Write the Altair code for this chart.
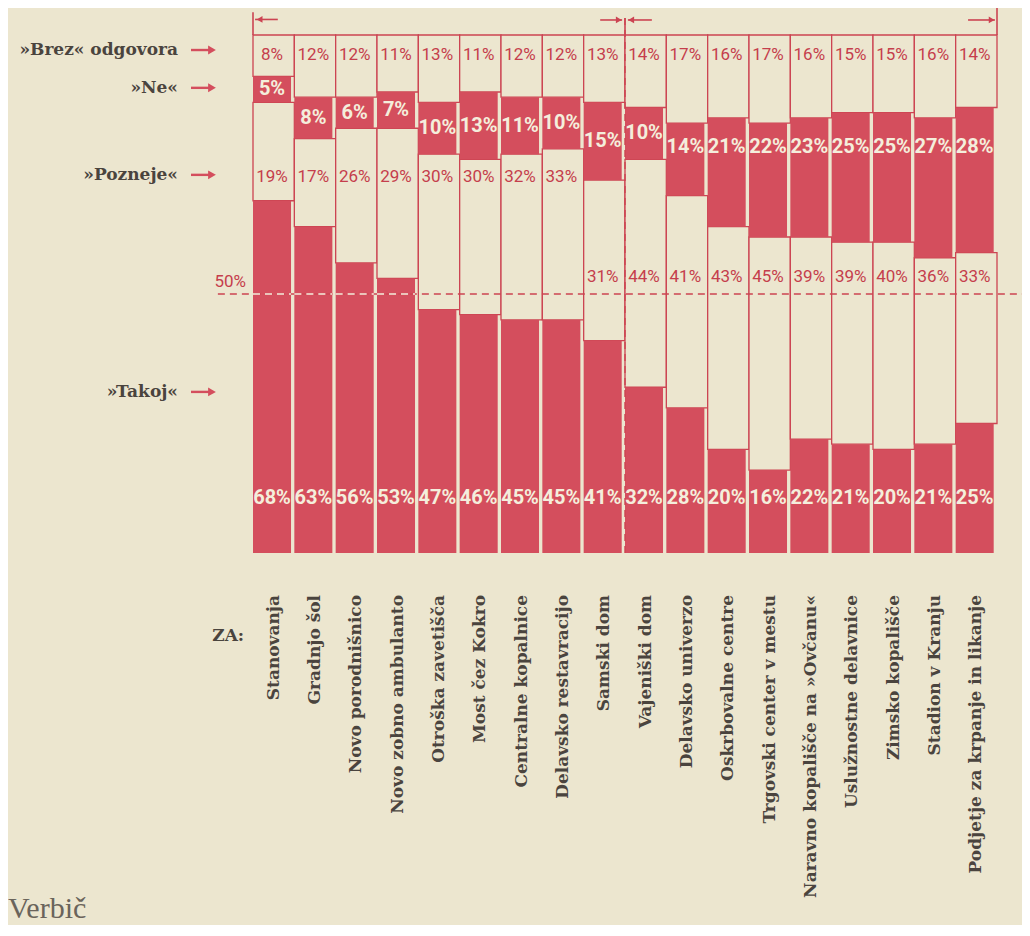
import altair as alt
import pandas as pd

# ---------------- data ----------------
categories = [
    "Stanovanja", "Gradnjo šol", "Novo porodnišnico", "Novo zobno ambulanto",
    "Otroška zavetišča", "Most čez Kokro", "Centralne kopalnice",
    "Delavsko restavracijo", "Samski dom", "Vajeniški dom", "Delavsko univerzo",
    "Oskrbovalne centre", "Trgovski center v mestu",
    "Naravno kopališče na »Ovčanu«", "Uslužnostne delavnice",
    "Zimsko kopališče", "Stadion v Kranju", "Podjetje za krpanje in likanje",
]
takoj = [68, 63, 56, 53, 47, 46, 45, 45, 41, 32, 28, 20, 16, 22, 21, 20, 21, 25]
pozneje = [19, 17, 26, 29, 30, 30, 32, 33, 31, 44, 41, 43, 45, 39, 39, 40, 36, 33]
ne = [5, 8, 6, 7, 10, 13, 11, 10, 15, 10, 14, 21, 22, 23, 25, 25, 27, 28]
brez = [8, 12, 12, 11, 13, 11, 12, 12, 13, 14, 17, 16, 17, 16, 15, 15, 16, 14]

series_names = ["»Takoj«", "»Pozneje«", "»Ne«", "»Brez« odgovora"]
legend_rows = [31.1, 73.0, 89.8, 97.1]      # where the left-hand legend sits (in %)
group_edges = [0, 9, 18]                     # column edges marked at the top

# ---------------- style ----------------
BG = "#ece6cf"
RED = "#d44e5d"
RED_LINE = "#cc4452"
RED_TXT = "#c53e4c"
LIGHT = "#f4eedc"
INK = "#4a443e"
PCT_FONT = "Roboto, Liberation Sans, sans-serif"
SERIF = "DejaVu Serif, Liberation Serif, serif"
W, H = 744, 518
N = len(categories)
RED_W = 0.92

# ---------------- frames ----------------
seg_rows, white_lab, red_lab = [], [], []
for i, cat in enumerate(categories):
    vals = [takoj[i], pozneje[i], ne[i], brez[i]]
    base = 0
    for k, v in enumerate(vals):
        seg_rows.append(dict(cat=cat, series=series_names[k], v=v,
                             x0=i, x1=i + 1, xr=i + RED_W,
                             y0=base, y1=base + v, red=(k % 2 == 0)))
        base += v
    xc = i + RED_W / 2
    ne_top = takoj[i] + pozneje[i] + ne[i]
    white_lab.append(dict(xc=xc, ly=10.6, txt=f"{takoj[i]}%"))
    white_lab.append(dict(xc=xc, ly=max(ne_top - ne[i] / 2, 78.4), txt=f"{ne[i]}%"))
    red_lab.append(dict(xc=xc, ly=72.6 if takoj[i] >= 44 else 53.3, txt=f"{pozneje[i]}%"))
    red_lab.append(dict(xc=xc, ly=96.2, txt=f"{brez[i]}%"))

seg = pd.DataFrame(seg_rows)
cream_df = seg[~seg.red]
red_df = seg[seg.red]
white_df = pd.DataFrame(white_lab)
redlab_df = pd.DataFrame(red_lab)
cat_df = pd.DataFrame(dict(cat=categories, xc=[i + 0.5 for i in range(N)], ly=-8.1))
legend_df = pd.DataFrame(dict(name=series_names, y=legend_rows))
above_half = pd.DataFrame([dict(x0=i, x1=i + RED_W, y=50) for i in range(N) if takoj[i] > 50])

xs = alt.Scale(domain=[0, N], nice=False, zero=False)
ys = alt.Scale(domain=[0, 100], nice=False, zero=False)


def X(f):
    return alt.X(f, type="quantitative", scale=xs, axis=None)


def Y(f):
    return alt.Y(f, type="quantitative", scale=ys, axis=None)


cream = alt.Chart(cream_df).mark_rect(fill=BG, stroke=RED_LINE, strokeWidth=1.3).encode(
    x=X("x0"), x2="x1", y=Y("y0"), y2="y1")
red = alt.Chart(red_df).mark_rect(fill=RED).encode(
    x=X("x0"), x2="xr", y=Y("y0"), y2="y1")

# 50% line
half = pd.DataFrame(dict(xa=[-0.85], xb=[18.9], y=[50]))
half_line = alt.Chart(half).mark_rule(color=RED_LINE, strokeWidth=1.6, strokeDash=[7, 5]).encode(
    x=X("xa"), x2="xb", y=Y("y"))
half_cream = alt.Chart(above_half).mark_rule(color=LIGHT, strokeWidth=1.6, strokeDash=[7, 5]).encode(
    x=X("x0"), x2="x1", y=Y("y"))
half_txt = alt.Chart(pd.DataFrame(dict(x=[-0.55], y=[50.6], t=["50%"]))).mark_text(
    font=PCT_FONT, fontSize=17, color=RED_TXT, baseline="bottom", align="center").encode(
    x=X("x"), y=Y("y"), text="t:N")

# vertical group divider
vdiv = alt.Chart(pd.DataFrame(dict(x=[9], ya=[0], yb=[103.3]))).mark_rule(
    color=RED_LINE, strokeWidth=1.4, strokeDash=[7, 5]).encode(x=X("x"), y=Y("ya"), y2="yb")

# top markers
edge_df = pd.DataFrame(dict(x=group_edges, ya=[100, 100, 100], yb=[104.4, 103.3, 105.4]))
edges = alt.Chart(edge_df).mark_rule(color=RED_LINE, strokeWidth=1.6).encode(
    x=X("x"), y=Y("ya"), y2="yb")
arr_df = pd.DataFrame(dict(xa=[0.05, 8.4, 9.07, 17.3], xb=[0.6, 8.93, 9.65, 17.95],
                           y=[103.0, 102.9, 102.9, 102.9]))
arr_lines = alt.Chart(arr_df).mark_rule(color=RED_LINE, strokeWidth=1.6).encode(
    x=X("xa"), x2="xb", y=Y("y"))
headl = pd.DataFrame(dict(x=[0.16, 9.15], y=[103.0, 102.9]))
headr = pd.DataFrame(dict(x=[8.85, 17.87], y=[102.9, 102.9]))
arr_hl = alt.Chart(headl).mark_point(shape="triangle-left", filled=True, color=RED_LINE,
                                      size=45, opacity=1).encode(x=X("x"), y=Y("y"))
arr_hr = alt.Chart(headr).mark_point(shape="triangle-right", filled=True, color=RED_LINE,
                                      size=45, opacity=1).encode(x=X("x"), y=Y("y"))

# percentage labels
white_txt = alt.Chart(white_df).mark_text(
    font=PCT_FONT, fontSize=20, fontWeight="bold", color=LIGHT,
    align="center", baseline="middle").encode(x=X("xc"), y=Y("ly"), text="txt:N")
red_txt = alt.Chart(redlab_df).mark_text(
    font=PCT_FONT, fontSize=17, color=RED_TXT,
    align="center", baseline="middle").encode(x=X("xc"), y=Y("ly"), text="txt:N")

# left legend
leg_txt = alt.Chart(legend_df).mark_text(
    font=SERIF, fontSize=17, fontWeight="bold", color=INK, align="right",
    baseline="middle").encode(x=alt.value(-75), y=Y("y"), text="name:N")
leg_line = alt.Chart(legend_df).mark_rule(color=RED, strokeWidth=2.4).encode(
    x=alt.value(-62), x2=alt.value(-44), y=Y("y"))
leg_head = alt.Chart(legend_df).mark_point(shape="triangle-right", filled=True, color=RED,
                                           size=80, opacity=1).encode(x=alt.value(-41), y=Y("y"))

# category labels
cat_txt = alt.Chart(cat_df).mark_text(
    font=SERIF, fontSize=17, fontWeight="bold", color=INK, angle=270,
    align="right", baseline="middle").encode(x=X("xc"), y=Y("ly"), text="cat:N")
za_txt = alt.Chart(pd.DataFrame(dict(x=[-0.6], y=[-16.0], t=["ZA:"]))).mark_text(
    font=SERIF, fontSize=17, fontWeight="bold", color=INK, align="center",
    baseline="middle").encode(x=X("x"), y=Y("y"), text="t:N")
sig = alt.Chart(pd.DataFrame(dict(t=["Verbič"]))).mark_text(
    font="Liberation Serif, serif", fontSize=30, color="#6a645b", align="left",
    baseline="alphabetic").encode(x=alt.value(-245), y=alt.value(883), text="t:N")

chart = alt.layer(
    cream, red, half_line, half_cream, vdiv, edges, arr_lines, arr_hl, arr_hr,
    white_txt, red_txt, half_txt, leg_txt, leg_line, leg_head, cat_txt, za_txt, sig,
).properties(
    width=W, height=H,
    background=BG,
    padding={"left": 245, "top": 27, "right": 25, "bottom": 372},
    autosize=alt.AutoSizeParams(type="none"),
).configure_view(stroke=None)

chart.save("out.html", embed_options={"renderer": "svg", "actions": False})
